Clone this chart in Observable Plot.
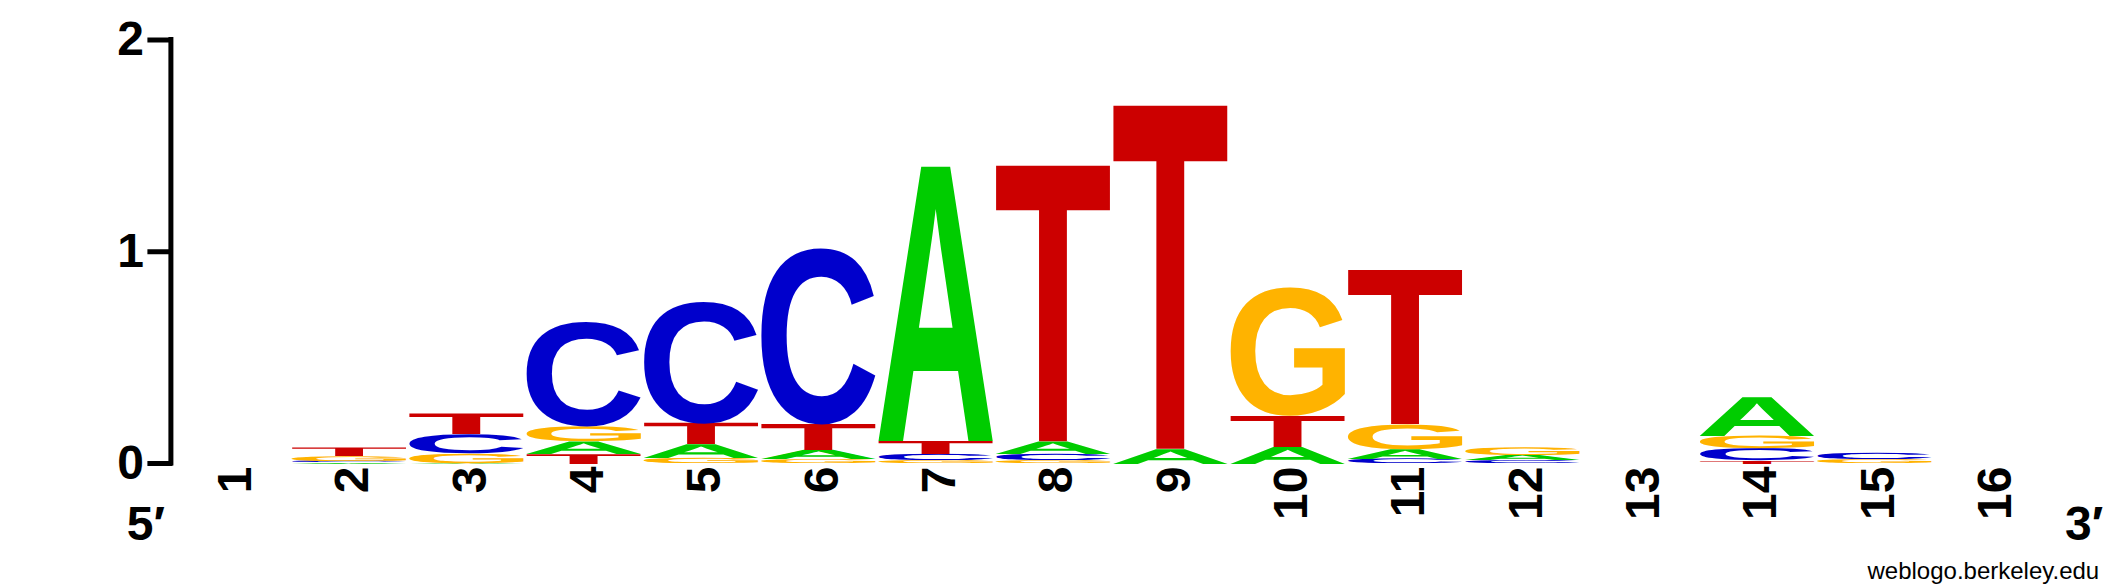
<!DOCTYPE html>
<html>
<head>
<meta charset="utf-8">
<script src="https://cdn.jsdelivr.net/npm/d3@7"></script>
<script src="https://cdn.jsdelivr.net/npm/@observablehq/plot@0.6"></script>
<style>
  html, body { margin: 0; padding: 0; background: white; overflow: hidden; }
  #chart svg { display: block; }
</style>
</head>
<body>
<div id="chart"></div>
<script>
// sequence logo, 16 positions, heights in bits per base
const positions = [1, 2, 3, 4, 5, 6, 7, 8, 9, 10, 11, 12, 13, 14, 15, 16];
const bases = ["A", "C", "G", "T"];
const baseColors = ["#00cc00", "#0000cc", "#ffb300", "#cc0000"];

const bitsA = [0, 0.005, 0.004, 0.059, 0.065, 0.043, 1.294, 0.06, 0.07, 0.08, 0.046, 0.025, 0, 0.182, 0, 0];
const bitsC = [0, 0.008, 0.09, 0.493, 0.574, 0.83, 0.03, 0.03, 0, 0, 0.022, 0.015, 0, 0.057, 0.03, 0];
const bitsG = [0, 0.022, 0.045, 0.07, 0.025, 0.019, 0.015, 0.015, 0, 0.606, 0.117, 0.037, 0, 0.06, 0.02, 0];
const bitsT = [0, 0.04, 0.097, 0.046, 0.1, 0.123, 0.061, 1.3, 1.618, 0.146, 0.727, 0, 0, 0.014, 0, 0];

const yTicks = [0, 1, 2];

const heights = [bitsA, bitsC, bitsG, bitsT];

// stack: smallest at the bottom
const rows = [];
positions.forEach((p, i) => {
  const stack = bases
    .map((b, j) => ({base: b, h: heights[j][i]}))
    .filter(d => d.h > 0)
    .sort((a, b) => a.h - b.h);
  let y = 0;
  for (const s of stack) rows.push({pos: p, base: s.base, y1: y, y2: (y += s.h)});
});

const font = "'Liberation Sans', Arial, Helvetica, sans-serif";
const letterSize = 400;

const chart = Plot.plot({
  width: 2125,
  height: 588,
  marginLeft: 172.4,
  marginRight: 75.3,
  marginTop: 39.5,
  marginBottom: 125,
  x: {type: "linear", domain: [0.5, 16.5], axis: null},
  y: {domain: [0, 2], axis: null},
  color: {domain: bases, range: baseColors},
  style: {fontFamily: font, background: "white", color: "black"},
  marks: [
    Plot.text(rows, {
      x: "pos", y: "y1", text: "base", fill: "base",
      fontSize: letterSize, fontWeight: "bold"
    }),
    Plot.ruleX([0.5], {y1: 0, y2: 2, dx: -2, strokeWidth: 5, strokeLinecap: "square"}),
    Plot.axisY({
      ticks: yTicks, tickSize: 25, tickPadding: 4, strokeWidth: 5,
      fontSize: 48, fontWeight: "bold", tickFormat: d => d, label: null
    }),
    Plot.text(positions, {
      x: d => d, text: d => d, frameAnchor: "bottom", rotate: -90,
      textAnchor: "end", lineAnchor: "middle", dx: 4, dy: 3,
      fontSize: 48, fontWeight: "bold"
    }),
    Plot.text(["5′"], {text: d => d, frameAnchor: "bottom-left", dx: -27, dy: 76,
      lineAnchor: "bottom", textAnchor: "middle", fontSize: 48, fontWeight: "bold"}),
    Plot.text(["3′"], {text: d => d, frameAnchor: "bottom-right", dx: 34, dy: 76,
      lineAnchor: "bottom", textAnchor: "middle", fontSize: 48, fontWeight: "bold"}),
    Plot.text(["weblogo.berkeley.edu"], {text: d => d, frameAnchor: "bottom-right", dx: 49, dy: 115,
      lineAnchor: "bottom", textAnchor: "end", fontSize: 24})
  ]
});

d3.select("#chart").append(() => chart);

// find each glyph's ink box by drawing it on a canvas and scanning pixels
const cw = letterSize * 2, ch = letterSize * 2, base0 = letterSize * 1.4, left0 = letterSize * 0.4;
const canvas = document.createElement("canvas");
canvas.width = cw; canvas.height = ch;
const ctx = canvas.getContext("2d", {willReadFrequently: true});
const ink = {};
for (const b of bases) {
  ctx.clearRect(0, 0, cw, ch);
  ctx.font = `bold ${letterSize}px ${font}`;
  ctx.fillStyle = "#000";
  ctx.fillText(b, left0, base0);
  const px = ctx.getImageData(0, 0, cw, ch).data;
  let x0 = cw, x1 = 0, y0 = ch, y1 = 0;
  for (let y = 0; y < ch; y++) for (let x = 0; x < cw; x++) {
    if (px[(y * cw + x) * 4 + 3] > 127) {
      if (x < x0) x0 = x; if (x > x1) x1 = x;
      if (y < y0) y0 = y; if (y > y1) y1 = y;
    }
  }
  ink[b] = {l: left0 - x0, r: x1 + 1 - left0, a: base0 - y0, d: y1 + 1 - base0};
}

// stretch each letter so its ink fills its box
const xs = chart.scale("x"), ys = chart.scale("y");
const half = 0.486;
const letterNodes = Array.from(chart.querySelectorAll("text"))
  .filter(t => bases.includes(t.textContent));
letterNodes.forEach((node, k) => {
  const d = rows[k], g = ink[d.base];
  const x0 = xs.apply(d.pos - half), x1 = xs.apply(d.pos + half);
  const yb = ys.apply(d.y1), yt = ys.apply(d.y2);
  const sx = (x1 - x0) / (g.l + g.r), sy = (yb - yt) / (g.a + g.d);
  d3.select(node)
    .attr("transform", `translate(${x0 + sx * g.l},${yb - sy * g.d}) scale(${sx},${sy})`)
    .attr("x", null).attr("y", null).attr("dy", null)
    .attr("text-anchor", "start")
    .attr("text-rendering", "geometricPrecision");
});
</script>
</body>
</html>
